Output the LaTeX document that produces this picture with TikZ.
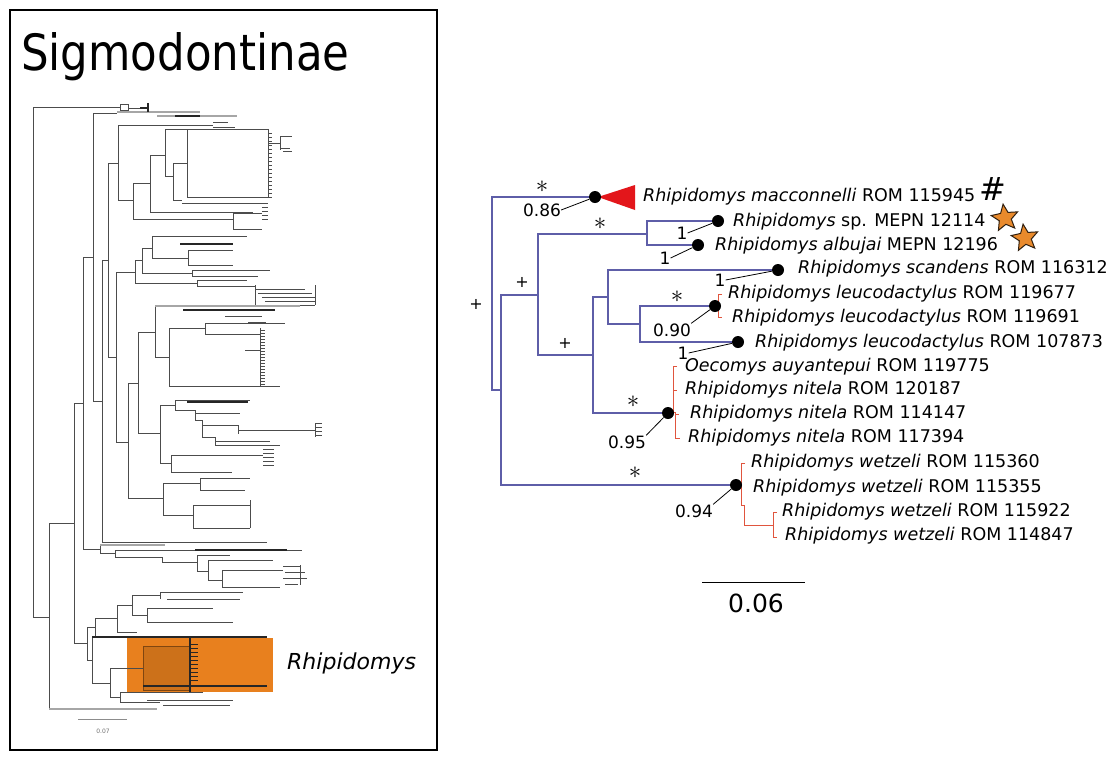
\documentclass[tikz,border=0pt]{standalone}
\usepackage{graphicx}
\usepackage{fontspec}
\setmainfont{DejaVu Sans}
\usetikzlibrary{shapes.geometric}
\definecolor{br}{HTML}{5E5EA8}
\definecolor{rd}{HTML}{E0553E}
\definecolor{tri}{HTML}{E3161B}
\definecolor{org}{HTML}{E8801E}
\definecolor{stf}{HTML}{E98A2C}
\begin{document}
\begin{tikzpicture}[x=1pt,y=-1pt,
  lab/.style={anchor=west,inner sep=0pt,font=\fontsize{17.5}{20}\selectfont},
  suplab/.style={inner sep=0pt,font=\fontsize{17}{20}\selectfont},
  ast/.style={inner sep=0pt,font=\fontsize{29}{29}\selectfont},
  plus/.style={inner sep=0pt,font=\fontsize{16}{16}\selectfont},
  bpdot/.style={circle,fill=black,inner sep=0pt,minimum size=12pt},
  blu/.style={draw=br,line width=1.2pt},
  redbr/.style={draw=rd,line width=1pt},
  supl/.style={draw=black,line width=0.8pt},
  lt/.style={draw=black!70,line width=0.6pt},
  lg/.style={draw=black!35,line width=1.3pt},
  ld/.style={draw=black!85,line width=1.3pt},
  starn/.style={star,star points=5,star point ratio=2.2,minimum size=28pt,inner sep=0pt,fill=stf,draw=black!75!brown,line width=1pt,rotate=8}]
\useasboundingbox (0,0) rectangle (1119,764);
\fill[white] (0,0) rectangle (1119,764);

% ---------------- left panel ----------------
\draw[line width=2.5pt] (10,10) rectangle (437,750);
\node[anchor=base west,inner sep=0pt] (title) at (21,70) {\scalebox{0.87}[1]{\fontsize{50}{50}\selectfont Sigmodontinae}};

% orange clade
\fill[org] (127,638) rectangle (273,692);
\draw[draw=org!55!black,fill=org!88!black,line width=0.8pt] (143,646) rectangle (190,690);

\foreach \y/\a/\b in {107/33/120,108/128/148,113/93/117,163/108/118,125/118/213,122/213/228,127/213/235,
  200/118/133,183/133/150,219/133/233,213/233/262,229/233/262,212/150/253,155/150/165,129/165/268,197/187/268,
  143/268/280,136/280/292,148/280/290,151/283/292,176/165/173,163/173/187,200/173/182,203/182/268,
  260/102/108,357/108/116,272/116/135,260/135/142,248/142/152,236/152/247,258/152/188,250/188/233,265/188/233,
  273/142/192,270/192/270,276/192/258,283/135/197,280/197/247,286/197/255,289/255/305,293/258/312,297/262/316,301/265/316,305/285/315,
  442/116/128,383/128/138,332/138/155,357/155/169,328/169/205,323/205/285,334/205/260,386/169/280,350/245/260,316/225/262,322/248/266,
  433/138/160,405/160/175,400/175/250,410/175/195,413/195/240,420/195/202,425/202/238,430/238/315,437/202/215,441/215/270,445/215/280,
  463/160/171,455/171/263,472/171/232,498/128/163,483/163/200,478/200/250,490/200/245,515/163/193,505/193/250,528/193/250,
  542/102/267,549/83/100,553/100/115,550/115/302,557/115/162,562/162/197,555/197/230,571/197/208,560/208/273,580/208/222,570/222/283,587/222/280,
  566/283/300,572/285/305,578/283/307,584/285/298,
  643/74/87,627/87/95,618/95/117,605/117/132,595/132/160,592/160/243,599/167/240,615/132/147,608/147/213,622/147/233,632/117/137,
  660/87/92,683/92/110,668/110/143,697/110/120,692/120/203,702/120/160,700/147/233,705/163/230,
  523/49/74,403/74/83,257/83/93,401/93/102,617/33/49}
  \draw[lt] (\a,\y) -- (\b,\y);
\foreach \x/\a/\b in {33/107/617,49/523/709,74/403/643,83/257/549,93/113/401,102/260/542,108/163/357,116/272/442,
  118/125/200,133/183/219,150/155/212,165/129/176,173/163/200,187/129/197,268/129/197,233/213/229,280/136/150,
  135/260/283,142/248/273,152/236/258,188/250/265,192/270/276,197/280/286,255/285/305,315/285/305,
  128/383/498,138/332/433,155/306/357,169/328/386,205/323/334,260/328/386,160/405/463,175/400/410,195/410/420,
  202/420/437,238/425/434,215/437/445,315/423/437,171/455/472,163/483/515,200/478/490,193/505/528,250/500/528,
  100/545/553,115/550/557,162/557/562,197/555/571,208/560/580,222/570/587,300/565/585,
  87/627/660,95/618/637,117/605/632,132/595/615,160/592/599,147/608/622,92/637/683,110/668/697,120/692/702}
  \draw[lt] (\x,\a) -- (\x,\b);
\draw[lt] (120,104) rectangle (128,110);
\foreach \y/\a/\b in {112/117/200,116/157/237,709/49/157,545/100/165,306/155/300}
  \draw[lg] (\a,\y) -- (\b,\y);
\foreach \y/\a/\b in {108/140/148,244/180/233,402/187/248,550/195/287,637/92/267,310/183/275,686/143/267,116/175/200}
  \draw[ld] (\a,\y) -- (\b,\y);
\draw[ld] (148,103) -- (148,112);
\draw[ld] (190,638) -- (190,692);
% tip clusters
\foreach \y in {133,137,...,197} \draw[lt] (268,\y) -- (272,\y);
\foreach \y in {330,333,...,385} \draw[lt] (260,\y) -- (265,\y);
\foreach \y in {423,427,...,437} \draw[lt] (315,\y) -- (322,\y);
\foreach \y in {644,648,...,680} \draw[ld,line width=0.8pt] (190,\y) -- (198,\y);
\foreach \y in {203,207,...,219} \draw[lt] (262,\y) -- (268,\y);
\foreach \y in {449,453,...,467} \draw[lt] (263,\y) -- (274,\y);

\node[anchor=west,inner sep=0pt,font=\fontsize{22}{24}\selectfont\itshape] (rhlab) at (287,663) {Rhipidomys};
\coordinate (lsb1) at (78,719);
\coordinate (lsb2) at (127,719);
\draw[draw=black!45,line width=0.6pt] (lsb1) -- (lsb2);
\node[inner sep=0pt,font=\fontsize{6}{6}\selectfont,text=black!55] (lsbl) at (103,731) {0.07};

% ---------------- right panel ----------------
\coordinate (r0) at (492,293);
\coordinate (n1) at (501,390);
\coordinate (n2) at (538,295);
\coordinate (n3) at (647,234);
\coordinate (n4) at (593,355);
\coordinate (n5) at (608,297);
\coordinate (n6) at (640,324);

% red tip lines
\draw[redbr] (722,294) -- (718,294) -- (718,317) -- (722,317);
\draw[redbr] (677,366) -- (673,366) -- (673,412);
\draw[redbr] (673,390) -- (677,390);
\draw[redbr] (673,412) -- (675,412) -- (675,438) -- (680,438);
\draw[redbr] (675,414) -- (679,414);
\draw[redbr] (745,463) -- (741,463) -- (741,505) -- (744,505) -- (744,525) -- (773,525);
\draw[redbr] (777,512) -- (773,512) -- (773,537) -- (777,537);
\fill[tri] (598,197) -- (635,185) -- (635,210) -- cycle;

\node[bpdot] (dmac) at (595,197) {};
\node[bpdot] (dsp) at (718,221) {};
\node[bpdot] (dalb) at (698,245) {};
\node[bpdot] (dsca) at (778,270) {};
\node[bpdot] (dleu) at (715,306) {};
\node[bpdot] (dleuc) at (738,342) {};
\node[bpdot] (dnit) at (668,413) {};
\node[bpdot] (dwet) at (736,485) {};

\draw[blu] (r0) |- (dmac);
\draw[blu] (r0) |- (n1);
\draw[blu] (n1) |- (n2);
\draw[blu] (n1) |- (dwet);
\draw[blu] (n2) |- (n3);
\draw[blu] (n2) |- (n4);
\draw[blu] (n3) |- (dsp);
\draw[blu] (n3) |- (dalb);
\draw[blu] (n4) |- (n5);
\draw[blu] (n4) |- (dnit);
\draw[blu] (n5) |- (dsca);
\draw[blu] (n5) |- (n6);
\draw[blu] (n6) |- (dleu);
\draw[blu] (n6) |- (dleuc);

% taxon labels
\node[lab] (tmac) at (643,197) {\textit{Rhipidomys macconnelli} ROM 115945};
\node[lab] (tsp) at (733,222) {\textit{Rhipidomys} sp. MEPN 12114};
\node[lab] (talb) at (715,246) {\textit{Rhipidomys albujai} MEPN 12196};
\node[lab] (tsca) at (798,269) {\textit{Rhipidomys scandens} ROM 116312};
\node[lab] (tleua) at (728,294) {\textit{Rhipidomys leucodactylus} ROM 119677};
\node[lab] (tleub) at (732,318) {\textit{Rhipidomys leucodactylus} ROM 119691};
\node[lab] (tleuc) at (755,343) {\textit{Rhipidomys leucodactylus} ROM 107873};
\node[lab] (toec) at (685,367) {\textit{Oecomys auyantepui} ROM 119775};
\node[lab] (tnita) at (685,390) {\textit{Rhipidomys nitela} ROM 120187};
\node[lab] (tnitb) at (690,414) {\textit{Rhipidomys nitela} ROM 114147};
\node[lab] (tnitc) at (688,438) {\textit{Rhipidomys nitela} ROM 117394};
\node[lab] (tweta) at (751,463) {\textit{Rhipidomys wetzeli} ROM 115360};
\node[lab] (twetb) at (753,488) {\textit{Rhipidomys wetzeli} ROM 115355};
\node[lab] (twetc) at (782,512) {\textit{Rhipidomys wetzeli} ROM 115922};
\node[lab] (twetd) at (785,536) {\textit{Rhipidomys wetzeli} ROM 114847};

\node[inner sep=0pt,font=\fontsize{32}{32}\selectfont] (hash) at (993,189) {\#};
\node[starn] (st1) at (1005,218) {};
\node[starn] (st2) at (1025,238) {};

% support values
\node[suplab] (s1) at (542,210) {0.86};
\node[suplab] (s2) at (682,233) {1};
\node[suplab] (s3) at (665,258) {1};
\node[suplab] (s4) at (720,280) {1};
\node[suplab] (s5) at (672,330) {0.90};
\node[suplab] (s6) at (683,353) {1};
\node[suplab] (s7) at (627,442) {0.95};
\node[suplab] (s8) at (694,511) {0.94};
\draw[supl] (s1.east) -- (dmac);
\draw[supl] (s2.east) -- (dsp);
\draw[supl] (s3.east) -- (dalb);
\draw[supl] (s4.east) -- (dsca);
\draw[supl] (s5.north east) -- (dleu);
\draw[supl] (s6.east) -- (dleuc);
\draw[supl] (s7.north east) -- (dnit);
\draw[supl] (s8.north east) -- (dwet);

% asterisks and plus marks
\node[ast] (a1) at (542,187) {$\ast$};
\node[ast] (a2) at (600,224) {$\ast$};
\node[ast] (a3) at (677,297) {$\ast$};
\node[ast] (a4) at (633,402) {$\ast$};
\node[ast] (a5) at (635,473) {$\ast$};
\node[plus] (p1) at (476,304) {+};
\node[plus] (p2) at (522,282) {+};
\node[plus] (p3) at (565,343) {+};

% scale bar
\coordinate (sb1) at (702,582);
\coordinate (sb2) at (805,582);
\draw[line width=1pt] (sb1) -- (sb2);
\node[inner sep=0pt,font=\fontsize{25}{25}\selectfont] (sbl) at (756,603) {0.06};
\end{tikzpicture}
\end{document}
